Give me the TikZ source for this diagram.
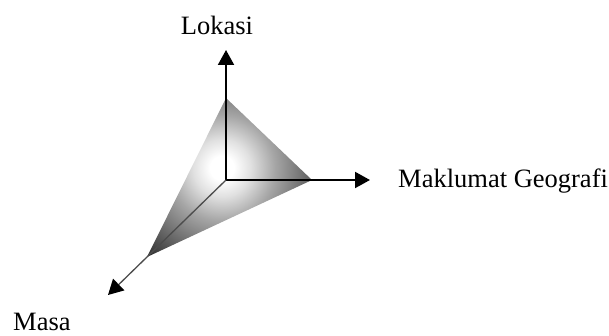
\documentclass[tikz,border=0pt]{standalone}
\usepackage{fontspec}
\setmainfont{Liberation Serif}
\usetikzlibrary{arrows.meta}
\pgfdeclareradialshading{glow}{\pgfpoint{0bp}{0bp}}{%
  color(0bp)=(white); color(2.5bp)=(white); color(6bp)=(black!12);
  color(11bp)=(black!35); color(16bp)=(black!53); color(25bp)=(black!85);
  color(50bp)=(black!85)}
\tikzset{
    axis/.style={
        -{Triangle[length=15pt, width=16pt]},
        line width=2pt, color=black
    },
    axisthin/.style={
        -{Triangle[length=15pt, width=16pt, color=black]},
        line width=1.3pt, color=black!70
    },
    lbl/.style={font=\fontsize{26.5}{30}\selectfont, inner sep=0pt, anchor=base},
}
\begin{document}
\begin{tikzpicture}[x=1pt, y=-1pt]
    \useasboundingbox (0,0) rectangle (609,336);

    % origin and triangle corners
    \coordinate (o) at (226,180);
    \coordinate (ctop) at (226,98);
    \coordinate (cright) at (312,180);
    \coordinate (cleft) at (147,257);

    % axis ends
    \coordinate (lok) at (226,50);
    \coordinate (geo) at (370,180);
    \coordinate (mas) at (108,295);

    % shaded face
    \begin{scope}
        \clip (ctop) -- (cright) -- (cleft) -- cycle;
        \shade[shading=glow] (222,168) circle (120pt);
    \end{scope}

    \draw[axis] (o) -- (lok);
    \draw[axis] (o) -- (geo);
    \draw[axisthin] (o) -- (mas);

    \node[lbl] (lokasi) at (217,35) {Lokasi};
    \node[lbl, anchor=base west] (maklumat) at (398,188) {Maklumat Geografi};
    \node[lbl, anchor=base west] (masa) at (13,330) {Masa};
\end{tikzpicture}
\end{document}
